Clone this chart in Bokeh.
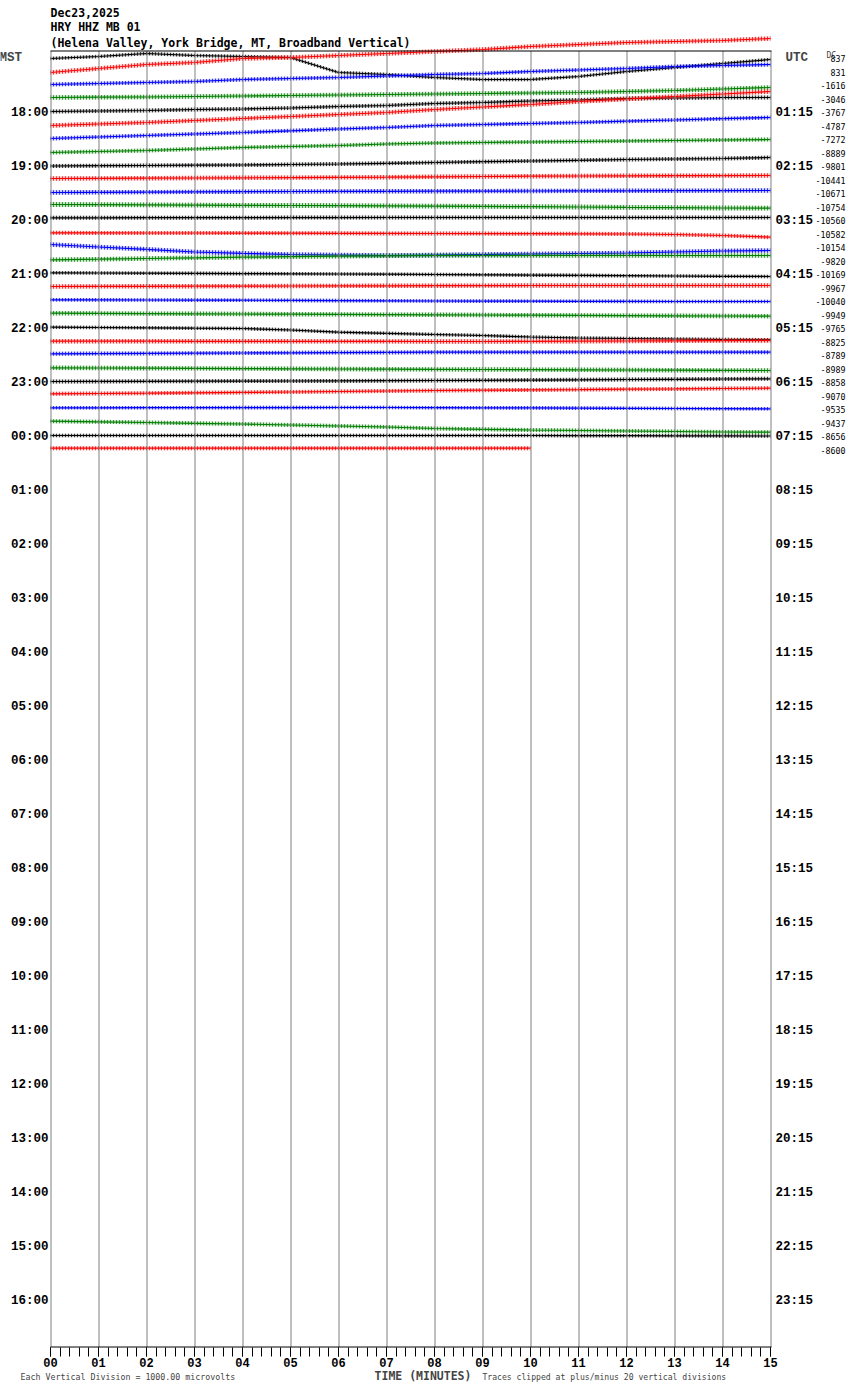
from bokeh.plotting import figure
from bokeh.models import Range1d, FixedTicker, LinearAxis, Label, LabelSet, ColumnDataSource
from bokeh.core.properties import value
from bokeh.embed import file_html
from bokeh.resources import INLINE

# ---------------- data read from the helicorder ----------------
minutes = [0, 1, 2, 3, 4, 5, 6, 7, 8, 9, 10, 11, 12, 13, 14, 15]
minute_labels = ["00", "01", "02", "03", "04", "05", "06", "07",
                 "08", "09", "10", "11", "12", "13", "14", "15"]

mst_labels = ["18:00", "19:00", "20:00", "21:00", "22:00", "23:00", "00:00",
              "01:00", "02:00", "03:00", "04:00", "05:00", "06:00", "07:00",
              "08:00", "09:00", "10:00", "11:00", "12:00", "13:00", "14:00",
              "15:00", "16:00"]
utc_labels = ["01:15", "02:15", "03:15", "04:15", "05:15", "06:15", "07:15",
              "08:15", "09:15", "10:15", "11:15", "12:15", "13:15", "14:15",
              "15:15", "16:15", "17:15", "18:15", "19:15", "20:15", "21:15",
              "22:15", "23:15"]

dc_values = [837, 831, -1616, -3046, -3767, -4787, -7272, -8889, -9801, -10441,
             -10671, -10754, -10560, -10582, -10154, -9820, -10169, -9967, -10040,
             -9949, -9765, -8825, -8789, -8989, -8858, -9070, -9535, -9437, -8656,
             -8600]

# trace drift (display units, positive = downward) at each minute
drift = [
    [0, -2, -5, -3, -2, -1, 14, 16, 19, 21, 21, 18, 13, 9, 5, 1],
    [0.5, -3.5, -7.5, -9.5, -13.5, -14.5, -16.5, -18.5, -20.5, -22.5, -25.5, -27.5, -29.5, -30.5, -31.5, -33.5],
    [-1, -2, -3, -4, -6, -7, -8, -9.5, -11, -12, -14, -15.5, -17, -19, -20, -21],
    [-1.5, -1.8, -2, -2.5, -3, -3.5, -4, -4.5, -5, -5.5, -6, -6.5, -7.5, -8.5, -10, -11.5],
    [-1, -1.5, -2, -3, -3.5, -4.5, -6, -7, -9, -10, -11.5, -12.5, -14, -14.5, -15, -15],
    [-0.5, -2, -3.5, -5.5, -7.5, -9.5, -11.5, -13.5, -16.5, -19, -21.5, -24.5, -27, -29.5, -32, -34.5],
    [-1, -2.5, -4, -5.5, -7, -8.7, -10.5, -12, -14, -15, -16, -17, -18.3, -19.5, -20.8, -22],
    [-0.5, -1.5, -2.5, -4, -5.5, -6.5, -7.5, -9, -10, -10.5, -11, -11.5, -12, -12.5, -13, -13.5],
    [-0.5, -0.8, -1, -1.3, -1.5, -2, -2.5, -3.2, -4, -4.8, -5.5, -6.2, -7, -7.5, -8, -9],
    [-1.5, -1.6, -1.8, -2, -2.2, -2.4, -2.6, -2.8, -3.2, -3.5, -3.8, -4, -4.2, -4.3, -4.4, -4.5],
    [-1, -1.2, -1.4, -1.6, -1.8, -2, -2.1, -2.2, -2.3, -2.4, -2.5, -2.6, -2.7, -2.8, -2.9, -3],
    [-2.5, -2.3, -2.1, -1.9, -1.7, -1.5, -1.3, -1.1, -0.9, -0.6, -0.3, 0, 0.4, 0.7, 1, 1.2],
    [-2.7, -2.7, -2.8, -2.8, -2.8, -2.9, -2.9, -3, -3, -3, -3, -3, -3, -3, -3, -3],
    [-1.2, -1.1, -1, -1, -0.9, -0.8, -0.7, -0.6, -0.5, -0.4, -0.3, -0.2, 0, 0.5, 1.5, 3.2],
    [-3, -0.5, 1.8, 4.5, 5.8, 7, 7.5, 8, 7.5, 7, 6.5, 6, 5.5, 4.5, 3.5, 3],
    [-1.2, -1.8, -2.5, -3.2, -3.8, -4.3, -4.8, -5.2, -5.5, -5.5, -5.5, -5.5, -5.5, -5.5, -5.5, -5.5],
    [-1.7, -1.5, -1.3, -1.1, -0.9, -0.7, -0.5, -0.3, 0, 0.3, 0.6, 0.9, 1.2, 1.5, 1.8, 2],
    [-1.5, -1.6, -1.7, -1.8, -1.9, -2, -2.1, -2.2, -2.3, -2.4, -2.5, -2.5, -2.5, -2.5, -2.5, -2.5],
    [-1.7, -1.6, -1.5, -1.4, -1.3, -1.1, -0.9, -0.7, -0.5, -0.4, -0.3, -0.2, -0.1, 0, 0, 0],
    [-1.8, -1.6, -1.4, -1.2, -1, -0.8, -0.6, -0.4, -0.2, 0, 0.2, 0.4, 0.6, 0.8, 1, 1.2],
    [-1.3, -1, -0.7, -0.3, 0, 1.5, 3.7, 4.8, 6, 7, 8.5, 9.5, 10, 10.5, 11, 11.3],
    [-0.8, -0.8, -0.8, -0.7, -0.7, -0.7, -0.6, -0.6, -0.5, -0.5, -0.6, -0.8, -1, -1.2, -1.4, -1.5],
    [-1.7, -1.9, -2.1, -2.3, -2.5, -2.7, -2.9, -3.1, -3.3, -3.3, -3.3, -3.3, -3.3, -3.3, -3.3, -3.3],
    [-1.2, -1, -0.8, -0.6, -0.4, -0.2, 0, 0.2, 0.4, 0.5, 0.6, 0.8, 1, 1.2, 1.4, 1.5],
    [-1, -1.1, -1.2, -1.3, -1.4, -1.5, -1.6, -1.8, -2, -2.2, -2.4, -2.7, -3, -3.2, -3.5, -3.7],
    [-2.2, -2.5, -2.8, -3.2, -3.6, -4, -4.5, -5, -5.5, -5.8, -6.1, -6.4, -6.8, -7.1, -7.5, -7.8],
    [-1.7, -1.7, -1.8, -1.8, -1.9, -1.9, -2, -2, -1.8, -1.7, -1.6, -1.4, -1.2, -1, -0.8, -0.7],
    [-1.8, -1.2, -0.5, 0.3, 1, 2, 3, 4, 5.5, 6.3, 7, 7.5, 8, 8.5, 9, 9.2],
    [-1, -1, -1, -1, -1, -1, -1, -1, -1, -1, -1, -0.9, -0.8, -0.7, -0.6, -0.5],
    [-1.8, -1.8, -1.8, -1.8, -1.8, -1.8, -1.8, -1.8, -1.8, -1.8, -1.8],
]

# half amplitude of the background noise of each trace (display units)
noise = [1.7, 2.2, 2.0, 2.2, 2.0, 2.2, 2.0, 2.0, 2.0, 2.2, 2.2, 2.4, 2.0, 2.0, 2.2,
         2.2, 1.8, 2.2, 1.8, 2.2, 1.8, 2.2, 2.0, 2.2, 2.0, 2.0, 1.8, 2.0, 1.8, 2.0]

trace_colors = ["#000000", "#ff0000", "#0000ff", "#007f00"]

# ---------------- layout constants ----------------
W, H = 848, 1386
X0_PX, PX_PER_MIN = 50, 48.0          # minute 0 at canvas x=50
ROW0_PX, PX_PER_ROW = 58, 13.5        # first trace at canvas y=58
UNITS_PER_ROW = 13.5                  # display units per trace spacing
ROWS_PER_HOUR = 4
PX = 1.0 / PX_PER_MIN


def cx(px):   # canvas x -> minutes
    return (px - X0_PX) / PX_PER_MIN


def cy(py):   # canvas y -> rows
    return (py - ROW0_PX) / PX_PER_ROW


BORDER_ROW = cy(50.5)
AXIS_ROW = cy(1346.5)

p = figure(width=W, height=H,
           x_range=Range1d(cx(0), cx(W)), y_range=Range1d(cy(H), cy(0)),
           output_backend="svg", toolbar_location=None,
           x_axis_location=None, y_axis_location=None,
           min_border_left=0, min_border_right=0,
           min_border_top=0, min_border_bottom=0)
p.outline_line_color = None
p.background_fill_color = "white"
p.border_fill_color = "white"
p.grid.visible = False

# ---------------- traces ----------------
for k, d in enumerate(drift):
    xs = minutes[:len(d)]
    base = [k + v / UNITS_PER_ROW for v in d]
    amp = noise[k] / UNITS_PER_ROW
    c = trace_colors[k % 4]
    p.varea(x=xs, y1=[b - amp for b in base], y2=[b + amp for b in base],
            fill_color=c, fill_alpha=0.2,
            hatch_pattern="vertical_line", hatch_color=c, hatch_scale=3.0,
            hatch_weight=1.0, hatch_alpha=0.75)
    p.line(xs, base, line_color=c, line_width=1.2)

# ---------------- grid and borders ----------------
grid_x = [m + 0.5 * PX for m in minutes]
p.segment(x0=grid_x, y0=[BORDER_ROW] * len(grid_x), x1=grid_x,
          y1=[AXIS_ROW] * len(grid_x), line_color="#808080", line_width=1)
p.segment(x0=[0], y0=[BORDER_ROW], x1=[15 + PX], y1=[BORDER_ROW],
          line_color="black", line_width=1)
p.segment(x0=[0], y0=[AXIS_ROW], x1=[15 + PX], y1=[AXIS_ROW],
          line_color="black", line_width=1)

# ---------------- axes (fixed inside the canvas) ----------------
hour_rows = [ROWS_PER_HOUR * (i + 1) for i in range(len(mst_labels))]


def style_labels(ax, size="12.5px"):
    ax.major_label_text_font = "Liberation Mono"
    ax.major_label_text_font_style = "bold"
    ax.major_label_text_font_size = size
    ax.major_label_text_color = "black"


la = LinearAxis(ticker=FixedTicker(ticks=hour_rows),
                major_label_overrides={r: t for r, t in zip(hour_rows, mst_labels)},
                fixed_location=0)
la.axis_line_color = None
la.major_tick_line_color = None
la.minor_tick_line_color = None
la.major_tick_out = 0
la.major_tick_in = 0
la.major_label_standoff = 2
style_labels(la)
p.add_layout(la, "left")

ra = LinearAxis(ticker=FixedTicker(ticks=hour_rows),
                major_label_overrides={r: t for r, t in zip(hour_rows, utc_labels)},
                fixed_location=15)
ra.axis_line_color = None
ra.major_tick_line_color = None
ra.minor_tick_line_color = None
ra.major_tick_out = 0
ra.major_tick_in = 0
ra.major_label_standoff = 5
style_labels(ra)
p.add_layout(ra, "right")

xa = LinearAxis(ticker=FixedTicker(ticks=minutes, minor_ticks=[i / 5 for i in range(76)]),
                major_label_overrides={m: t for m, t in zip(minutes, minute_labels)},
                fixed_location=AXIS_ROW)
xa.axis_line_color = None
xa.major_tick_line_color = "black"
xa.minor_tick_line_color = "black"
xa.major_tick_out = 9
xa.major_tick_in = 0
xa.minor_tick_out = 9
xa.minor_tick_in = 0
xa.major_label_standoff = 2
style_labels(xa, "12px")
p.add_layout(xa, "below")

# ---------------- texts ----------------
mono = "DejaVu Sans Mono"
for txt, py in [("Dec23,2025", 12), ("HRY HHZ MB 01", 26.5),
                ("(Helena Valley, York Bridge, MT, Broadband Vertical)", 42)]:
    p.add_layout(Label(x=0, y=cy(py), text=txt, text_font=mono, text_font_style="bold",
                       text_font_size="11.5px", text_baseline="middle", text_align="left",
                       text_color="black"))

p.add_layout(Label(x=cx(-1), y=cy(57), text="MST", text_font="Liberation Mono",
                   text_font_style="bold", text_font_size="12.5px", text_baseline="middle"))
p.add_layout(Label(x=cx(785), y=cy(57), text="UTC", text_font="Liberation Mono",
                   text_font_style="bold", text_font_size="12.5px", text_baseline="middle"))
p.add_layout(Label(x=cx(826), y=cy(54.5), text="DC", text_font=mono,
                   text_font_size="8px", text_baseline="middle"))

dc_src = ColumnDataSource(data=dict(
    y=list(range(len(dc_values))),
    text=[str(v) for v in dc_values]))
p.add_layout(LabelSet(x=cx(845), y="y", text="text", source=dc_src,
                      text_font=value(mono), text_font_size="8.3px",
                      text_align="right", text_baseline="middle", text_color="black"))

p.add_layout(Label(x=cx(422.5), y=cy(1375), text="TIME (MINUTES)", text_font=mono,
                   text_font_style="bold", text_font_size="11.5px",
                   text_align="center", text_baseline="middle"))
p.add_layout(Label(x=cx(20), y=cy(1376), text="Each Vertical Division = 1000.00 microvolts",
                   text_font=mono, text_font_size="8.3px", text_baseline="middle"))
p.add_layout(Label(x=cx(482), y=cy(1376), text="Traces clipped at plus/minus 20 vertical divisions",
                   text_font=mono, text_font_size="8.1px", text_baseline="middle"))

open("out.html", "w").write(file_html(p, INLINE))
